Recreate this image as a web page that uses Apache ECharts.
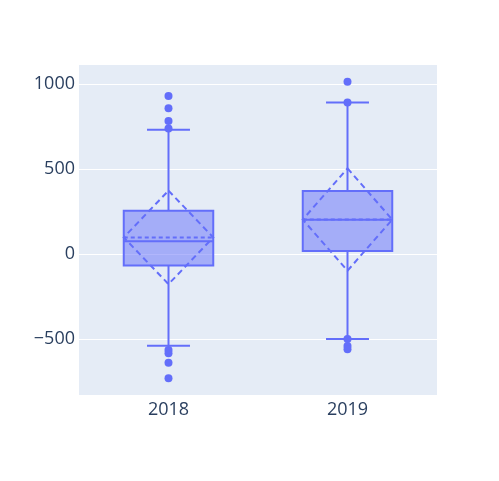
<!DOCTYPE html>
<html><head><meta charset="utf-8">
<script src="https://cdn.jsdelivr.net/npm/echarts@6/dist/echarts.min.js"></script>
<style>html,body{margin:0;padding:0;background:#fff}#c{width:499px;height:481px}</style>
</head><body><div id="c"></div>
<script>
const categories = ['2018', '2019'];
// [lower whisker, q1, median, q3, upper whisker]
const boxStats = [
  [-539, -67, 76, 255, 731],
  [-500, 18, 202, 371, 892]
];
const means = [98, 203];
const sds = [275, 301];
const outliers2018 = [929, 857, 782, 739, -565, -583, -639, -731];
const outliers2019 = [1014, 892, -500, -541, -560];
const yTicks = [-500, 0, 500, 1000];

const COLOR = '#636efa';
const FILL = 'rgba(99,110,250,0.5)';

const boxData = categories.map((c, i) => [i].concat(boxStats[i], [means[i], sds[i]]));
const outlierData = [];
outliers2018.forEach(v => outlierData.push([0, v]));
outliers2019.forEach(v => outlierData.push([1, v]));

function renderItem(params, api) {
  const idx = api.value(0);
  const band = api.size([1, 0])[0];
  const hw = band * 0.25, cw = hw * 0.48;
  const lo = api.coord([idx, api.value(1)]);
  const q1 = api.coord([idx, api.value(2)]);
  const med = api.coord([idx, api.value(3)]);
  const q3 = api.coord([idx, api.value(4)]);
  const hi = api.coord([idx, api.value(5)]);
  const mean = api.value(6), sd = api.value(7);
  const mc = api.coord([idx, mean]);
  const mt = api.coord([idx, mean + sd]);
  const mb = api.coord([idx, mean - sd]);
  const x = lo[0];
  const solid = {stroke: COLOR, lineWidth: 2, fill: null};
  const dashedMean = {stroke: COLOR, lineWidth: 2, fill: null, lineDash: [4, 3]};
  const dashed = {stroke: COLOR, lineWidth: 2, fill: null, lineDash: [6, 4]};
  return {
    type: 'group',
    children: [
      {type: 'rect', shape: {x: x - hw, y: q3[1], width: hw * 2, height: q1[1] - q3[1]},
       style: {fill: FILL, stroke: COLOR, lineWidth: 2}},
      {type: 'line', shape: {x1: x, y1: q3[1], x2: x, y2: hi[1]}, style: solid},
      {type: 'line', shape: {x1: x, y1: q1[1], x2: x, y2: lo[1]}, style: solid},
      {type: 'line', shape: {x1: x - cw, y1: hi[1], x2: x + cw, y2: hi[1]}, style: solid},
      {type: 'line', shape: {x1: x - cw, y1: lo[1], x2: x + cw, y2: lo[1]}, style: solid},
      {type: 'line', shape: {x1: x - hw, y1: med[1], x2: x + hw, y2: med[1]}, style: solid},
      {type: 'line', shape: {x1: x - hw, y1: mc[1], x2: x + hw, y2: mc[1]}, style: dashedMean},
      {type: 'polygon', shape: {points: [[x, mt[1]], [x + hw, mc[1]], [x, mb[1]], [x - hw, mc[1]]]}, style: dashed}
    ]
  };
}

const chart = echarts.init(document.getElementById('c'), null, {renderer: 'canvas'});
chart.setOption({
  animation: false,
  backgroundColor: '#fff',
  grid: {left: 79, right: 62, top: 65, bottom: 86, show: true, backgroundColor: '#E5ECF6', borderWidth: 0},
  xAxis: {
    type: 'category', data: categories,
    axisLine: {show: false}, axisTick: {show: false}, splitLine: {show: false},
    axisLabel: {color: '#2a3f5f', fontSize: 18, fontFamily: 'Open Sans', margin: 6}
  },
  yAxis: {
    type: 'value', min: -829, max: 1112,
    axisLine: {show: false},
    axisTick: {show: false, customValues: yTicks},
    axisLabel: {customValues: yTicks, color: '#2a3f5f', fontSize: 18, fontFamily: 'Open Sans', margin: 4,
      formatter: v => (v < 0 ? '\u2212' + Math.abs(v) : String(v))},
    splitLine: {show: true, lineStyle: {color: '#fff', width: 1}}
  },
  series: [
    {type: 'custom', renderItem: renderItem, data: boxData, encode: {x: 0, y: [1, 5]}, z: 2},
    {type: 'scatter', data: outlierData, symbolSize: 8, itemStyle: {color: COLOR, opacity: 1}, z: 3}
  ]
});
</script></body></html>
